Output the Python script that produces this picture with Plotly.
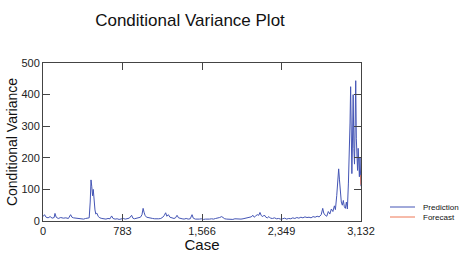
import plotly.graph_objects as go

# Prediction series (case, conditional variance)
pred_case = [0, 15, 30, 50, 70, 90, 110, 118, 130, 150, 175, 200, 225, 250, 272, 285, 300, 325, 350, 375,
             400, 420, 440, 455, 465, 473, 480, 488, 495, 503, 512, 520, 530, 545, 560, 580, 600, 620, 640, 660,
             676, 690, 710, 730, 750, 770, 790, 810, 830, 850, 873, 885, 900, 920, 940, 960, 975, 986, 995, 1005,
             1020, 1040, 1060, 1080, 1100, 1120, 1140, 1160, 1180, 1195, 1208, 1220, 1235, 1250, 1270, 1290, 1305, 1320, 1335, 1350,
             1370, 1390, 1410, 1430, 1450, 1468, 1480, 1500, 1520, 1540, 1560, 1580, 1600, 1620, 1640, 1660, 1680, 1700, 1720, 1740,
             1760, 1775, 1790, 1810, 1830, 1850, 1870, 1890, 1910, 1930, 1950, 1970, 1990, 2010, 2030, 2050, 2068, 2080, 2095, 2110,
             2125, 2137, 2150, 2165, 2180, 2195, 2210, 2225, 2240, 2260, 2280, 2300, 2320, 2340, 2360, 2380, 2400, 2420, 2440, 2460,
             2480, 2500, 2520, 2540, 2560, 2580, 2600, 2620, 2640, 2660, 2680, 2700, 2720, 2740, 2755, 2765, 2780, 2795, 2810, 2825,
             2840, 2855, 2870, 2880, 2893, 2905, 2912, 2920, 2930, 2938, 2948, 2958, 2968, 2978, 2988, 2998, 3008, 3016, 3024, 3030,
             3036, 3042, 3048, 3055, 3062, 3068, 3074, 3080, 3086, 3092, 3098, 3104, 3110, 3116, 3122, 3128, 3132]
pred_value = [14, 20, 12, 10, 14, 9, 11, 24, 12, 8, 11, 9, 10, 8, 20, 12, 10, 9, 7, 8,
              6, 8, 9, 10, 60, 130, 110, 80, 100, 60, 35, 22, 25, 14, 10, 8, 7, 6, 8, 7,
              16, 8, 6, 7, 5, 6, 8, 6, 7, 9, 18, 9, 7, 8, 10, 12, 20, 40, 28, 18,
              12, 10, 9, 8, 7, 6, 7, 8, 12, 18, 26, 15, 20, 12, 9, 8, 10, 18, 10, 8,
              7, 6, 8, 6, 7, 20, 9, 6, 5, 6, 7, 5, 6, 5, 6, 7, 6, 8, 9, 11,
              14, 10, 7, 6, 5, 6, 5, 7, 6, 5, 6, 7, 8, 9, 10, 13, 18, 12, 16, 20,
              18, 27, 17, 14, 19, 12, 10, 14, 9, 8, 10, 7, 8, 6, 7, 9, 6, 8, 7, 10,
              8, 11, 9, 12, 10, 13, 11, 12, 10, 14, 12, 15, 13, 20, 40, 25, 18, 15, 30, 22,
              38, 30, 48, 36, 80, 120, 165, 130, 90, 60, 50, 65, 45, 40, 60, 38, 120, 200, 310, 425,
              300, 150, 250, 400, 230, 180, 300, 444, 260, 210, 160, 230, 180, 140, 200, 150, 110]

# Forecast series
fc_case = [3130, 3131, 3132]
fc_value = [145, 128, 115]

x_ticks = [0, 783, 1566, 2349, 3132]
y_ticks = [0, 100, 200, 300, 400, 500]

series_names = ["Prediction", "Forecast"]
series_colors = ["#4455b5", "#ee7755"]

FONT = "Liberation Sans, Arial, sans-serif"
AX = "#444444"

fig = go.Figure()
fig.add_trace(go.Scatter(x=pred_case, y=pred_value, mode="lines", name=series_names[0],
                         line=dict(color=series_colors[0], width=1)))
fig.add_trace(go.Scatter(x=fc_case, y=fc_value, mode="lines", name=series_names[1],
                         line=dict(color=series_colors[1], width=1.2)))

axis_common = dict(showline=True, linecolor=AX, linewidth=1, mirror="ticks", ticks="inside",
                   ticklen=7, tickcolor=AX, tickwidth=1, showgrid=False, zeroline=False,
                   automargin=False,
                   tickfont=dict(family=FONT, size=11, color="#222"))

fig.update_xaxes(range=[0, 3132], tickvals=x_ticks, tickformat=",d",
                 title=dict(text="Case", font=dict(family=FONT, size=15, color="#111"), standoff=0),
                 **axis_common)
fig.update_yaxes(range=[0, 500], tickvals=y_ticks,
                 title=dict(text="Conditional Variance", font=dict(family=FONT, size=14, color="#111"), standoff=0),
                 **axis_common)

# Legend drawn as key lines + text labels placed beside the plot
L, R, T, B, W, H = 43, 100, 63, 32, 461, 253
pw, ph = W - L - R, H - T - B
def px_x(p):
    return (p - L) / pw
def px_y(p):
    return (H - B - p) / ph

shapes, annotations = [], []
for i, (nm, col) in enumerate(zip(series_names, series_colors)):
    yy = px_y(207 + 10 * i)
    shapes.append(dict(type="line", xref="paper", yref="paper", x0=px_x(390), x1=px_x(415),
                       y0=yy, y1=yy, line=dict(color=col, width=1)))
    annotations.append(dict(text=nm, xref="paper", yref="paper", x=px_x(422), y=yy,
                            xanchor="left", yanchor="middle", showarrow=False, borderpad=0,
                            font=dict(family=FONT, size=8, color="#111")))

fig.update_layout(
    width=W, height=H,
    margin=dict(l=L, r=R, t=T, b=B),
    paper_bgcolor="white", plot_bgcolor="white",
    title=dict(text="Conditional Variance Plot", font=dict(family=FONT, size=17, color="#111"),
               x=190 / W, xref="container", xanchor="center", y=1 - 20 / H, yref="container", yanchor="middle"),
    showlegend=False,
    shapes=shapes, annotations=annotations,
)

fig.write_html("out.html", config={"displayModeBar": False},
               post_script="document.body.style.margin='0';")
